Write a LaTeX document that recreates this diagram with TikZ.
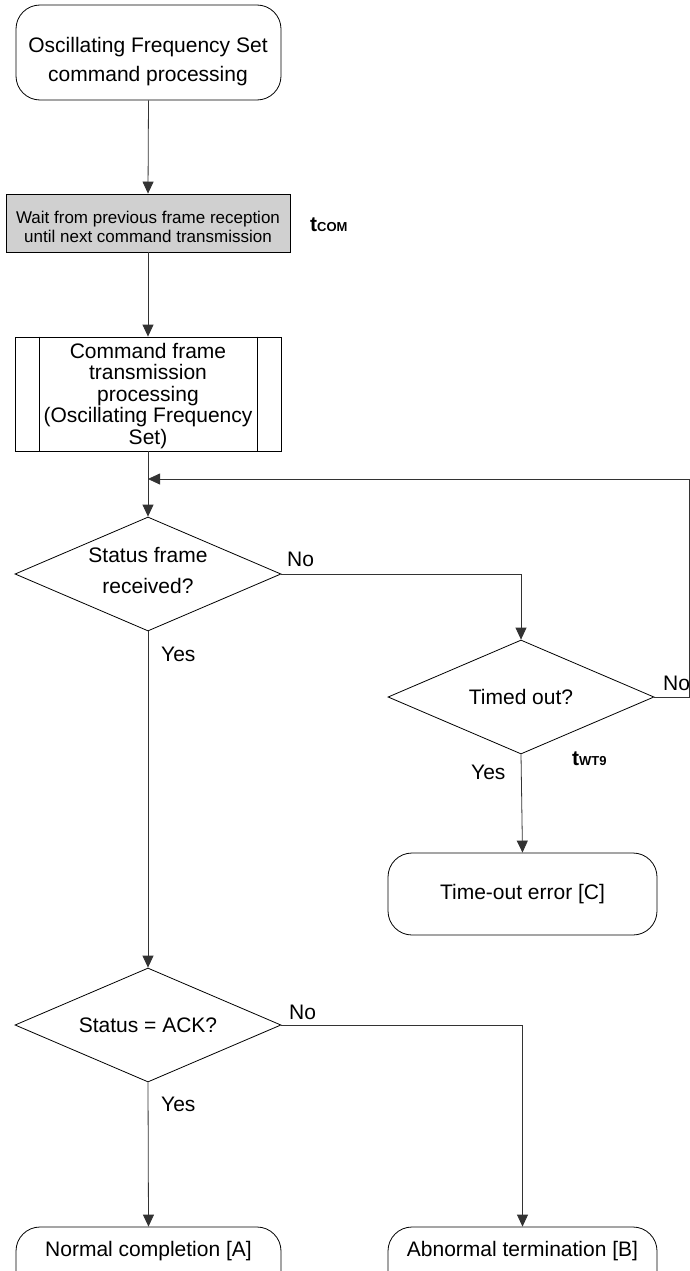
\documentclass[tikz,border=0pt]{standalone}
\usepackage{fontspec}
\setmainfont{Liberation Sans}
\usetikzlibrary{shapes.geometric,arrows.meta}
\begin{document}
\begin{tikzpicture}[x=1pt,y=-1pt,
  every node/.style={font=\fontsize{21}{25}\selectfont},
  conn/.style={line width=0.8pt,draw=black!80},
  arr/.style={conn,-{Triangle[length=12pt,width=11pt]}},
  term/.style={draw,line width=0.8pt,rounded corners=24pt,inner sep=0pt},
  txt/.style={align=center,inner sep=0pt},
  procbox/.style={draw,line width=0.8pt,inner sep=0pt},
  decision/.style={draw,line width=0.8pt,shape=diamond,inner sep=0pt,
     minimum width=266pt,minimum height=114pt},
  lbl/.style={inner sep=0pt,anchor=west}]
\useasboundingbox (0,0) rectangle (690,1271);
\begin{scope}
\clip (0,0) rectangle (690,1271);
% nodes
\node[term,minimum width=265pt,minimum height=95pt] (start) at (148.5,52.5) {};
\node[txt,font=\fontsize{21}{29}\selectfont] (startT) at (148,62) {Oscillating Frequency Set\\command processing};
\node[procbox,fill={rgb,255:red,208;green,208;blue,208},minimum width=284pt,minimum height=58pt] (wait) at (148,223) {};
\node[txt,font=\fontsize{17}{19.5}\selectfont] (waitT) at (148,227)
  {Wait from previous frame reception\\until next command transmission};
\node[lbl] (tcom) at (310,225) {\fontsize{21}{24}\selectfont\bfseries t\fontsize{13}{15}\selectfont COM};
\node[procbox,minimum width=266pt,minimum height=114pt] (sub) at (148,394) {};
\node[txt,font=\fontsize{21}{21.5}\selectfont] (subT) at (148,396)
  {Command frame\\transmission\\processing\\(Oscillating Frequency\\Set)};
\draw[line width=0.8pt] ([xshift=25pt]sub.north west) -- ([xshift=25pt]sub.south west);
\draw[line width=0.8pt] ([xshift=-24pt]sub.north east) -- ([xshift=-24pt]sub.south east);
\coordinate (merge) at (148,479);
\coordinate (rtop) at (689,479);
\node[decision] (d1) at (148,574) {};
\node[txt,font=\fontsize{21}{31}\selectfont] (d1T) at (148,570) {Status frame\\received?};
\node[decision] (d2) at (521,697) {};
\node[txt] (d2T) at (521,697) {Timed out?};
\coordinate (rmid) at (689,697);
\node[term,minimum width=269pt,minimum height=82pt] (tout) at (522.5,894) {};
\node[txt] (toutT) at (522.5,894) {Time-out error [C]};
\node[decision] (d3) at (148,1025) {};
\node[txt] (d3T) at (148,1025) {Status = ACK?};
\node[term,minimum width=265pt,minimum height=70pt] (norm) at (148.5,1262) {};
\node[txt] (normT) at (148.5,1251) {Normal completion [A]};
\node[term,minimum width=269pt,minimum height=70pt] (abn) at (522.5,1262) {};
\node[txt] (abnT) at (522.5,1251) {Abnormal termination [B]};
% labels
\node[lbl] (no1) at (287,559) {No};
\node[lbl] (yes1) at (161,654) {Yes};
\node[lbl] (no2) at (663,683) {No};
\node[lbl] (yes2) at (471,772) {Yes};
\node[lbl] (twt) at (572,759) {\fontsize{21}{24}\selectfont\bfseries t\fontsize{13}{15}\selectfont WT9};
\node[lbl] (no3) at (289,1012) {No};
\node[lbl] (yes3) at (161,1104) {Yes};
% connectors
\draw[arr] (start.south) -- (wait.north);
\draw[arr] (wait.south) -- (sub.north);
\draw[conn] (sub.south) -- (merge);
\draw[arr] (merge) -- (d1.north);
\draw[arr] (d1.east) -- (d1.east -| d2.north) -- (d2.north);
\draw[conn] (d2.east) -- (rmid) -- (rtop);
\draw[arr] (rtop) -- (merge);
\draw[arr] (d2.south) -- (tout.north);
\draw[arr] (d1.south) -- (d3.north);
\draw[arr] (d3.south) -- (norm.north);
\draw[arr] (d3.east) -- (d3.east -| abn.north) -- (abn.north);
\end{scope}
\end{tikzpicture}
\end{document}
